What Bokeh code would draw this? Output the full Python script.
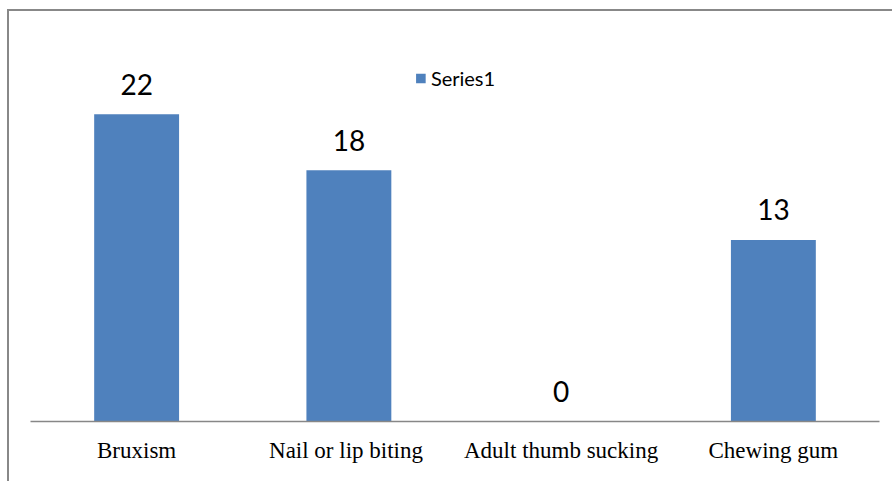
from bokeh.plotting import figure
from bokeh.models import FactorRange, Range1d, Legend, LegendItem, ColumnDataSource, InlineStyleSheet
from bokeh.core.properties import value
from bokeh.embed import file_html
from bokeh.resources import INLINE

# Habit categories and counts
categories = ["Bruxism", "Nail  or lip biting", "Adult thumb sucking", "Chewing gum"]
counts = [22, 18, 0, 13]
series_name = "Series1"

source = ColumnDataSource(dict(cat=categories, val=counts, lbl=[str(v) for v in counts]))

p = figure(
    width=892, height=481,
    x_range=FactorRange(*categories, range_padding=0),
    y_range=Range1d(0, 28),
    output_backend="svg", toolbar_location=None,
    min_border_left=30, min_border_right=13, min_border_top=30, min_border_bottom=60,
)
p.outline_line_color = None
p.background_fill_color = "white"
p.border_fill_color = "white"
p.grid.visible = False
p.yaxis.visible = False

bars = p.vbar(x="cat", top="val", width=0.4, source=source,
              fill_color="#4F81BD", line_color=None)

# Value labels above each bar
p.text(x="cat", y="val", text="lbl", source=source,
       text_align="center", text_baseline="alphabetic", y_offset=-30,
       text_font=value("Lato"), text_font_size="28px", text_color="#000000")

xa = p.xaxis[0]
xa.axis_line_color = "#878787"
xa.axis_line_width = 1.5
xa.major_tick_line_color = None
xa.minor_tick_line_color = None
xa.major_label_text_font = "Liberation Serif"
xa.major_label_text_font_size = "23px"
xa.major_label_text_color = "#000000"
xa.major_label_standoff = 10

legend = Legend(items=[LegendItem(label=series_name, renderers=[bars])],
                location="top_center", orientation="horizontal",
                border_line_color=None, background_fill_alpha=0,
                glyph_width=12, glyph_height=12, padding=0, margin=36,
                label_text_font="Lato", label_text_font_size="20px",
                label_text_color="#000000", label_standoff=5)
p.add_layout(legend)

# Chart border along the left and top edges
p.stylesheets = [InlineStyleSheet(css="""
:host { position: relative; }
:host::after {
  content: ""; position: absolute; left: 7px; top: 9px; right: 0; bottom: 0;
  border-left: 2px solid #888888; border-top: 2px solid #888888;
  pointer-events: none;
}
""")]

open("out.html", "w").write(file_html(p, INLINE))
